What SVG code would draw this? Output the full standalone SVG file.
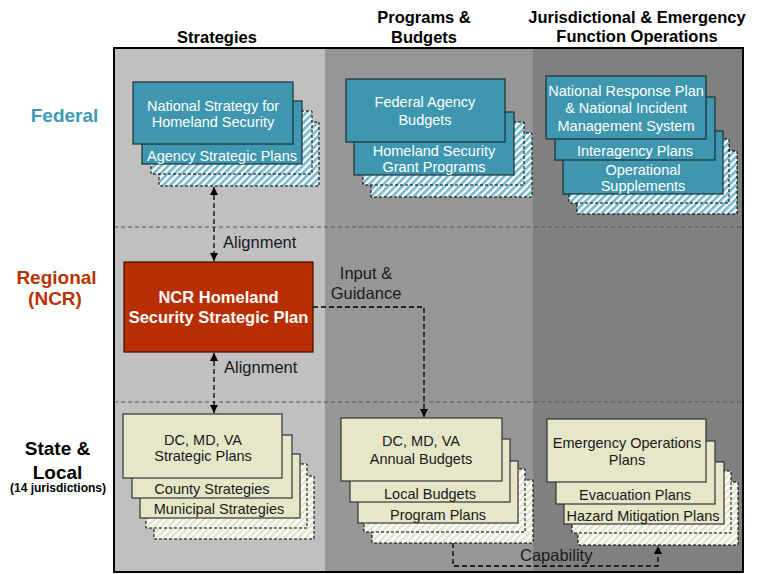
<svg xmlns="http://www.w3.org/2000/svg" width="761" height="574" viewBox="0 0 761 574">
<style>
.hdr{font-family:"Liberation Sans",Arial,sans-serif;font-weight:bold;font-size:16.5px;fill:#000;text-anchor:middle}
.row{font-family:"Liberation Sans",Arial,sans-serif;font-weight:bold;font-size:19px;text-anchor:middle}
.teal{fill:#3e97ae;stroke:#1b2f36;stroke-width:1.2}
.beige{fill:#e6e6c8;stroke:#333;stroke-width:1.2}
.hT{fill:url(#hatchTeal);stroke:#000;stroke-width:1;stroke-dasharray:3,2}
.hB{fill:url(#hatchBeige);stroke:#000;stroke-width:1;stroke-dasharray:3,2}
.tw{font-family:"Liberation Sans",Arial,sans-serif;font-size:14.5px;fill:#fff;text-anchor:middle}
.tb{font-family:"Liberation Sans",Arial,sans-serif;font-size:14.5px;fill:#1a1a1a;text-anchor:middle}
.lbl{font-family:"Liberation Sans",Arial,sans-serif;font-size:16.5px;fill:#1a1a1a}
.conn{fill:none;stroke:#000;stroke-width:1.3;stroke-dasharray:5,3}
.sep{stroke:#555;stroke-width:1;stroke-dasharray:4,3}
</style>
<defs>
<pattern id="hatchTeal" width="5" height="5" patternUnits="userSpaceOnUse" patternTransform="rotate(45)">
<rect width="5" height="5" fill="#fff"/><rect width="2.6" height="5" fill="#74b8cb"/>
</pattern>
<pattern id="hatchBeige" width="5" height="5" patternUnits="userSpaceOnUse" patternTransform="rotate(45)">
<rect width="5" height="5" fill="#fff"/><rect width="2.6" height="5" fill="#e4e4cc"/>
</pattern>
<marker id="ah" markerUnits="userSpaceOnUse" markerWidth="8" markerHeight="8" refX="8" refY="4" orient="auto-start-reverse">
<path d="M0,0 L8,4 L0,8 z" fill="#000"/>
</marker>
</defs>
<rect width="761" height="574" fill="#fff"/>
<g id="background">
<rect x="114" y="48" width="211" height="525" fill="#c0c0c0"/>
<rect x="325" y="48" width="208" height="525" fill="#969696"/>
<rect x="533" y="48" width="210" height="525" fill="#808080"/>
<line class="sep" x1="114" y1="227" x2="743" y2="227"/>
<line class="sep" x1="114" y1="402" x2="743" y2="402"/>
<rect x="114" y="48" width="629" height="524" fill="none" stroke="#000" stroke-width="2"/>
</g>
<g id="headers">
<text class="hdr" x="217" y="43">Strategies</text>
<text class="hdr" x="424" y="23">Programs &amp;</text>
<text class="hdr" x="424" y="43">Budgets</text>
<text class="hdr" x="637" y="23">Jurisdictional &amp; Emergency</text>
<text class="hdr" x="637" y="42">Function Operations</text>
</g>
<g id="row-labels">
<text class="row" x="64.5" y="122" fill="#3e9ab2">Federal</text>
<text class="row" x="56.5" y="284" fill="#b83300">Regional</text>
<text class="row" x="55" y="305" fill="#b83300">(NCR)</text>
<text class="row" x="57.5" y="455" fill="#000">State &amp;</text>
<text class="row" x="57.5" y="479" fill="#000">Local</text>
<text x="58" y="492" font-family="Liberation Sans, Arial, sans-serif" font-weight="bold" font-size="12" text-anchor="middle" fill="#000">(14 jurisdictions)</text>
</g>
<g id="fed-strategies">
<rect class="hT" x="159" y="122" width="160" height="64"/>
<rect class="hT" x="151" y="111" width="161" height="63"/>
<rect class="teal" x="142" y="101" width="160" height="63"/>
<rect class="teal" x="133" y="82" width="160" height="62"/>
<text class="tw" x="213" y="111">National Strategy for</text>
<text class="tw" x="213" y="127">Homeland Security</text>
<text class="tw" x="222" y="161">Agency Strategic Plans</text>
</g>
<g id="fed-budgets">
<rect class="hT" x="371" y="133" width="161" height="64"/>
<rect class="hT" x="363" y="122" width="161" height="63"/>
<rect class="teal" x="354" y="112" width="160" height="63"/>
<rect class="teal" x="346" y="79" width="159" height="63"/>
<text class="tw" x="425" y="107">Federal Agency</text>
<text class="tw" x="425" y="125">Budgets</text>
<text class="tw" x="434" y="156">Homeland Security</text>
<text class="tw" x="434" y="172">Grant Programs</text>
</g>
<g id="fed-operations">
<rect class="hT" x="577" y="151" width="160" height="63"/>
<rect class="hT" x="569" y="139" width="160" height="64"/>
<rect class="teal" x="563" y="131" width="160" height="63"/>
<rect class="teal" x="555" y="97" width="160" height="63"/>
<rect class="teal" x="546" y="76" width="160" height="63"/>
<text class="tw" x="626" y="96">National Response Plan</text>
<text class="tw" x="626" y="113">&amp; National Incident</text>
<text class="tw" x="626" y="131">Management System</text>
<text class="tw" x="635" y="156">Interagency Plans</text>
<text class="tw" x="643" y="175">Operational</text>
<text class="tw" x="643" y="191">Supplements</text>
</g>
<g id="ncr-plan">
<rect x="124" y="262" width="189" height="90" fill="#b82e00" stroke="#3a1000" stroke-width="1.2"/>
<text x="218.5" y="303" font-family="Liberation Sans, Arial, sans-serif" font-weight="bold" font-size="16.5" fill="#fff" text-anchor="middle">NCR Homeland</text>
<text x="218.5" y="323" font-family="Liberation Sans, Arial, sans-serif" font-weight="bold" font-size="16.5" fill="#fff" text-anchor="middle">Security Strategic Plan</text>
</g>
<g id="state-strategies">
<rect class="hB" x="154" y="476" width="160" height="63"/>
<rect class="hB" x="146" y="464" width="161" height="64"/>
<rect class="beige" x="140" y="454" width="160" height="64"/>
<rect class="beige" x="132" y="435" width="160" height="63"/>
<rect class="beige" x="123" y="414" width="159" height="64"/>
<text class="tb" x="203" y="445">DC, MD, VA</text>
<text class="tb" x="203" y="461">Strategic Plans</text>
<text class="tb" x="212" y="494">County Strategies</text>
<text class="tb" x="219" y="514">Municipal Strategies</text>
</g>
<g id="state-budgets">
<rect class="hB" x="372" y="480" width="161" height="63"/>
<rect class="hB" x="364" y="469" width="161" height="63"/>
<rect class="beige" x="358" y="461" width="160" height="62"/>
<rect class="beige" x="350" y="439" width="160" height="63"/>
<rect class="beige" x="341" y="418" width="161" height="63"/>
<text class="tb" x="421" y="446">DC, MD, VA</text>
<text class="tb" x="421" y="464">Annual Budgets</text>
<text class="tb" x="430" y="499">Local Budgets</text>
<text class="tb" x="438" y="520">Program Plans</text>
</g>
<g id="state-operations">
<rect class="hB" x="578" y="482" width="160" height="63"/>
<rect class="hB" x="572" y="471" width="159" height="62"/>
<rect class="beige" x="564" y="462" width="160" height="62"/>
<rect class="beige" x="556" y="441" width="159" height="63"/>
<rect class="beige" x="547" y="419" width="159" height="63"/>
<text class="tb" x="627" y="448">Emergency Operations</text>
<text class="tb" x="627" y="465">Plans</text>
<text class="tb" x="635" y="500">Evacuation Plans</text>
<text class="tb" x="643" y="521">Hazard Mitigation Plans</text>
</g>
<g id="connectors">
<line class="conn" x1="214" y1="187" x2="214" y2="261" marker-start="url(#ah)" marker-end="url(#ah)"/>
<line class="conn" x1="214" y1="353" x2="214" y2="413" marker-start="url(#ah)" marker-end="url(#ah)"/>
<path class="conn" d="M313,307 H424 V417" marker-end="url(#ah)"/>
<path class="conn" d="M453,543 V566 H658 V546" marker-end="url(#ah)"/>
<text class="lbl" x="223" y="248">Alignment</text>
<text class="lbl" x="224" y="373">Alignment</text>
<text class="lbl" x="366" y="279" text-anchor="middle">Input &amp;</text>
<text class="lbl" x="366" y="299" text-anchor="middle">Guidance</text>
<text class="lbl" x="520" y="561">Capability</text>
</g>
</svg>
